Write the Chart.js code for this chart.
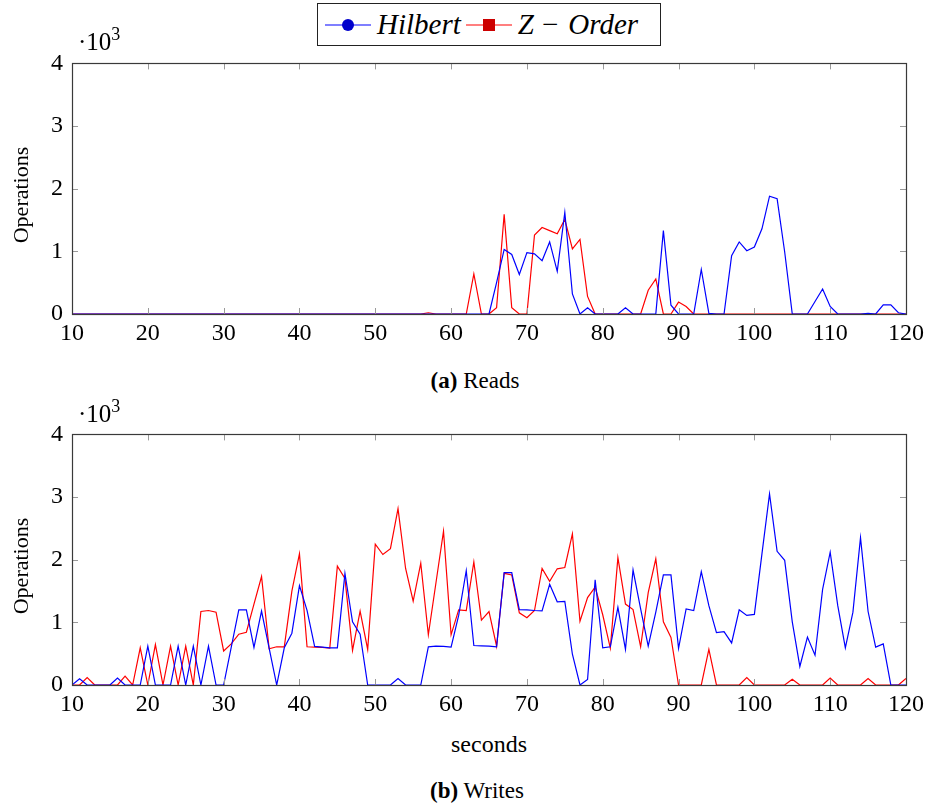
<!DOCTYPE html>
<html>
<head>
<meta charset="utf-8">
<script src="https://cdn.jsdelivr.net/npm/chart.js@4.4.1/dist/chart.umd.min.js"></script>
<style>
  html, body { margin:0; padding:0; background:#fff; }
  body { width:929px; height:804px; position:relative; overflow:hidden; font-family:"Liberation Serif", "DejaVu Serif", serif; color:#000; }
  canvas { position:absolute; left:0; }
  .txt { position:absolute; white-space:nowrap; line-height:1; }
  .ylab { position:absolute; transform:translate(-50%,-50%) rotate(-90deg); font-size:22px; white-space:nowrap; }
  .cap { position:absolute; transform:translateX(-50%); font-size:23px; white-space:nowrap; }
  #legend { position:absolute; left:317px; top:3px; width:344px; height:43px; border:1px solid #222; box-sizing:border-box; display:flex; align-items:center; padding-left:7px; font-style:italic; font-size:29px; font-family:"Liberation Serif", serif; }
  #legend span.item { display:flex; align-items:center; margin-right:5px; }
  #legend svg { margin-right:6px; }
  .op { font-style:normal; margin:0 10px 0 8px; }
</style>
</head>
<body>
<div id="legend"></div>
<canvas id="reads" width="929" height="320" style="top:40px"></canvas>
<canvas id="writes" width="929" height="320" style="top:411px"></canvas>
<div class="txt" style="left:78px; top:25px; font-size:25px;">·10<sup style="font-size:18px; vertical-align:10px;">3</sup></div>
<div class="txt" style="left:78px; top:397px; font-size:25px;">·10<sup style="font-size:18px; vertical-align:10px;">3</sup></div>
<div class="ylab" style="left:21px; top:195px;">Operations</div>
<div class="ylab" style="left:21px; top:566px;">Operations</div>
<div class="cap" style="left:475px; top:368px;"><b>(a)</b> Reads</div>
<div class="cap" style="left:489px; top:731px; font-size:24px;">seconds</div>
<div class="cap" style="left:477px; top:778px;"><b>(b)</b> Writes</div>
<script>
// ---- data (x = seconds 10..120, one value per second) ----
const seriesNames = ["Hilbert", "Z \u2212 Order"];
const xTicks = [10, 20, 30, 40, 50, 60, 70, 80, 90, 100, 110, 120];
const yTicks = [0, 1, 2, 3, 4]; // x10^3

const readsHilbert = [
  0,0,0,0,0,0,0,0,0,0,            // 10-19
  0,0,0,0,0,0,0,0,0,0,            // 20-29
  0,0,0,0,0,0,0,0,0,0,            // 30-39
  0,0,0,0,0,0,0,0,0,0,            // 40-49
  0,0,0,0,0,0,0,0,0,0,            // 50-59
  0,0,0,0,0,0,500,1030,950,630,   // 60-69
  980,960,850,1150,680,1620,320,0,100,0, // 70-79
  0,0,0,100,0,0,0,0,1330,140,     // 80-89
  0,0,0,710,10,0,0,930,1150,1010, // 90-99
  1070,1360,1880,1840,990,0,0,0,200,400, // 100-109
  120,0,0,0,0,10,0,145,145,20,    // 110-119
  0                               // 120
];
const readsZOrder = [
  0,0,0,0,0,0,0,0,0,0,            // 10-19
  0,0,0,0,0,0,0,0,0,0,            // 20-29
  0,0,0,0,0,0,0,0,0,0,            // 30-39
  0,0,0,0,0,0,0,0,0,0,            // 40-49
  0,0,0,0,0,0,0,20,0,0,           // 50-59
  0,0,0,640,0,0,100,1590,100,0,   // 60-69
  0,1260,1380,1330,1280,1510,1040,1190,280,0, // 70-79
  0,0,0,0,0,0,380,560,0,0,        // 80-89
  190,120,0,0,0,0,0,0,0,0,        // 90-99
  0,0,0,0,0,0,0,0,0,0,            // 100-109
  0,0,0,0,0,0,0,0,0,0,            // 110-119
  0                               // 120
];
const writesHilbert = [
  0,100,0,0,0,0,110,0,0,0,              // 10-19
  620,0,0,0,620,0,620,0,620,0,          // 20-29
  0,600,1200,1200,600,1180,590,0,594,827, // 30-39
  1587,1190,615,605,594,594,1780,1008,811,0, // 40-49
  0,0,0,103,0,0,0,610,620,615,          // 50-59
  605,1111,1824,630,625,620,610,1793,1793,1204, // 60-69
  1199,1189,1183,1607,1328,1333,491,0,88,1680, // 70-79
  594,610,1240,568,1835,1214,620,1163,1757,1757, // 80-89
  584,1214,1189,1809,1266,837,853,672,1199,1111, // 90-99
  1127,2093,3049,2134,1990,1008,295,765,475,1525, // 100-109
  2119,1266,594,1163,2351,1173,605,656,0,0, // 110-119
  0                                     // 120
];
const writesZOrder = [
  0,0,120,0,0,0,0,140,0,594,            // 10-19
  0,646,0,620,0,620,0,1173,1189,1163,   // 20-29
  543,656,811,842,1292,1731,579,610,610,1499, // 30-39
  2093,610,605,600,589,1897,1700,553,1178,568, // 40-49
  2248,2083,2176,2816,1860,1340,1945,801,1628,2455, // 50-59
  801,1199,1189,1964,1034,1173,620,1783,1757,1152, // 60-69
  1075,1189,1860,1654,1855,1876,2413,1018,1395,1561, // 70-79
  1121,590,2031,1292,1204,610,1473,2015,1008,760, // 80-89
  0,0,0,0,568,0,0,0,0,119,              // 90-99
  0,0,0,0,0,93,0,0,0,0,                 // 100-109
  109,0,0,0,0,103,0,0,0,0,              // 110-119
  103                                   // 120
];
const seconds = readsHilbert.map((_, i) => 10 + i);

// ---- legend (HTML) ----
const legendEl = document.getElementById('legend');
const zParts = seriesNames[1].split(' \u2212 ');
legendEl.innerHTML =
  '<span class="item"><svg width="46" height="14"><line x1="0" y1="7" x2="46" y2="7" stroke="#0000ff" stroke-width="1.2"/><circle cx="23" cy="7" r="6" fill="#0000cc"/></svg>' + seriesNames[0] + '</span>' +
  '<span class="item"><svg width="46" height="14"><line x1="0" y1="7" x2="46" y2="7" stroke="#ff0000" stroke-width="1.2"/><rect x="17" y="1" width="12" height="12" fill="#cc0000"/></svg>' +
  zParts[0] + '<span class="op">\u2212</span>' + zParts[1] + '</span>';

// ---- pgfplots-like frame with inward ticks ----
const frameTicks = {
  id: 'frameTicks',
  afterDatasetsDraw(chart) {
    const { ctx, chartArea: a, scales: { x, y } } = chart;
    ctx.save();
    ctx.lineWidth = 1;
    ctx.strokeStyle = '#9a9a9a';
    const L = 6;
    ctx.beginPath();
    x.ticks.forEach(t => {
      const px = Math.round(x.getPixelForValue(t.value)) + 0.5;
      ctx.moveTo(px, a.bottom); ctx.lineTo(px, a.bottom - L);
      ctx.moveTo(px, a.top); ctx.lineTo(px, a.top + L);
    });
    y.ticks.forEach(t => {
      const py = Math.round(y.getPixelForValue(t.value)) + 0.5;
      ctx.moveTo(a.left, py); ctx.lineTo(a.left + L, py);
      ctx.moveTo(a.right, py); ctx.lineTo(a.right - L, py);
    });
    ctx.stroke();
    ctx.strokeStyle = '#3a3a3a';
    ctx.lineWidth = 1.2;
    ctx.strokeRect(Math.round(a.left) + 0.5, Math.round(a.top) + 0.5, Math.round(a.right - a.left), Math.round(a.bottom - a.top));
    ctx.restore();
  }
};

const tickFont = { family: '"Liberation Serif", serif', size: 24 };

function makeChart(id, hil, zor) {
  return new Chart(document.getElementById(id), {
    type: 'line',
    data: {
      labels: seconds,
      datasets: [
        { label: seriesNames[0], data: seconds.map((s, i) => ({ x: s, y: hil[i] })), borderColor: '#0000ff', borderWidth: 1.2, pointRadius: 0, tension: 0, fill: false },
        { label: seriesNames[1], data: seconds.map((s, i) => ({ x: s, y: zor[i] })), borderColor: '#ff0000', borderWidth: 1.2, pointRadius: 0, tension: 0, fill: false }
      ]
    },
    options: {
      responsive: false,
      animation: false,
      devicePixelRatio: 1,
      layout: { padding: { top: 16, right: 23, left: 0, bottom: 0 } },
      plugins: { legend: { display: false }, tooltip: { enabled: false } },
      scales: {
        x: {
          type: 'linear', min: 10, max: 120,
          afterBuildTicks: s => { s.ticks = xTicks.map(v => ({ value: v })); },
          afterFit: s => { s.height = 46; },
          grid: { display: false, drawTicks: false },
          border: { display: false },
          ticks: { padding: 5, color: '#000', font: tickFont, maxRotation: 0, callback: v => String(v) }
        },
        y: {
          type: 'linear', min: 0, max: 4000,
          afterBuildTicks: s => { s.ticks = yTicks.map(v => ({ value: v * 1000 })); },
          afterFit: s => { s.width = 72; },
          grid: { display: false, drawTicks: false },
          border: { display: false },
          ticks: { padding: 9, color: '#000', font: tickFont, callback: v => String(v / 1000) }
        }
      }
    },
    plugins: [frameTicks]
  });
}

function build() {
  makeChart('reads', readsHilbert, readsZOrder);
  makeChart('writes', writesHilbert, writesZOrder);
}
if (document.fonts && document.fonts.load) {
  Promise.all([document.fonts.load('24px "Liberation Serif"'), document.fonts.load('italic 29px "Liberation Serif"')])
    .then(build, build);
} else {
  build();
}
</script>
</body>
</html>
